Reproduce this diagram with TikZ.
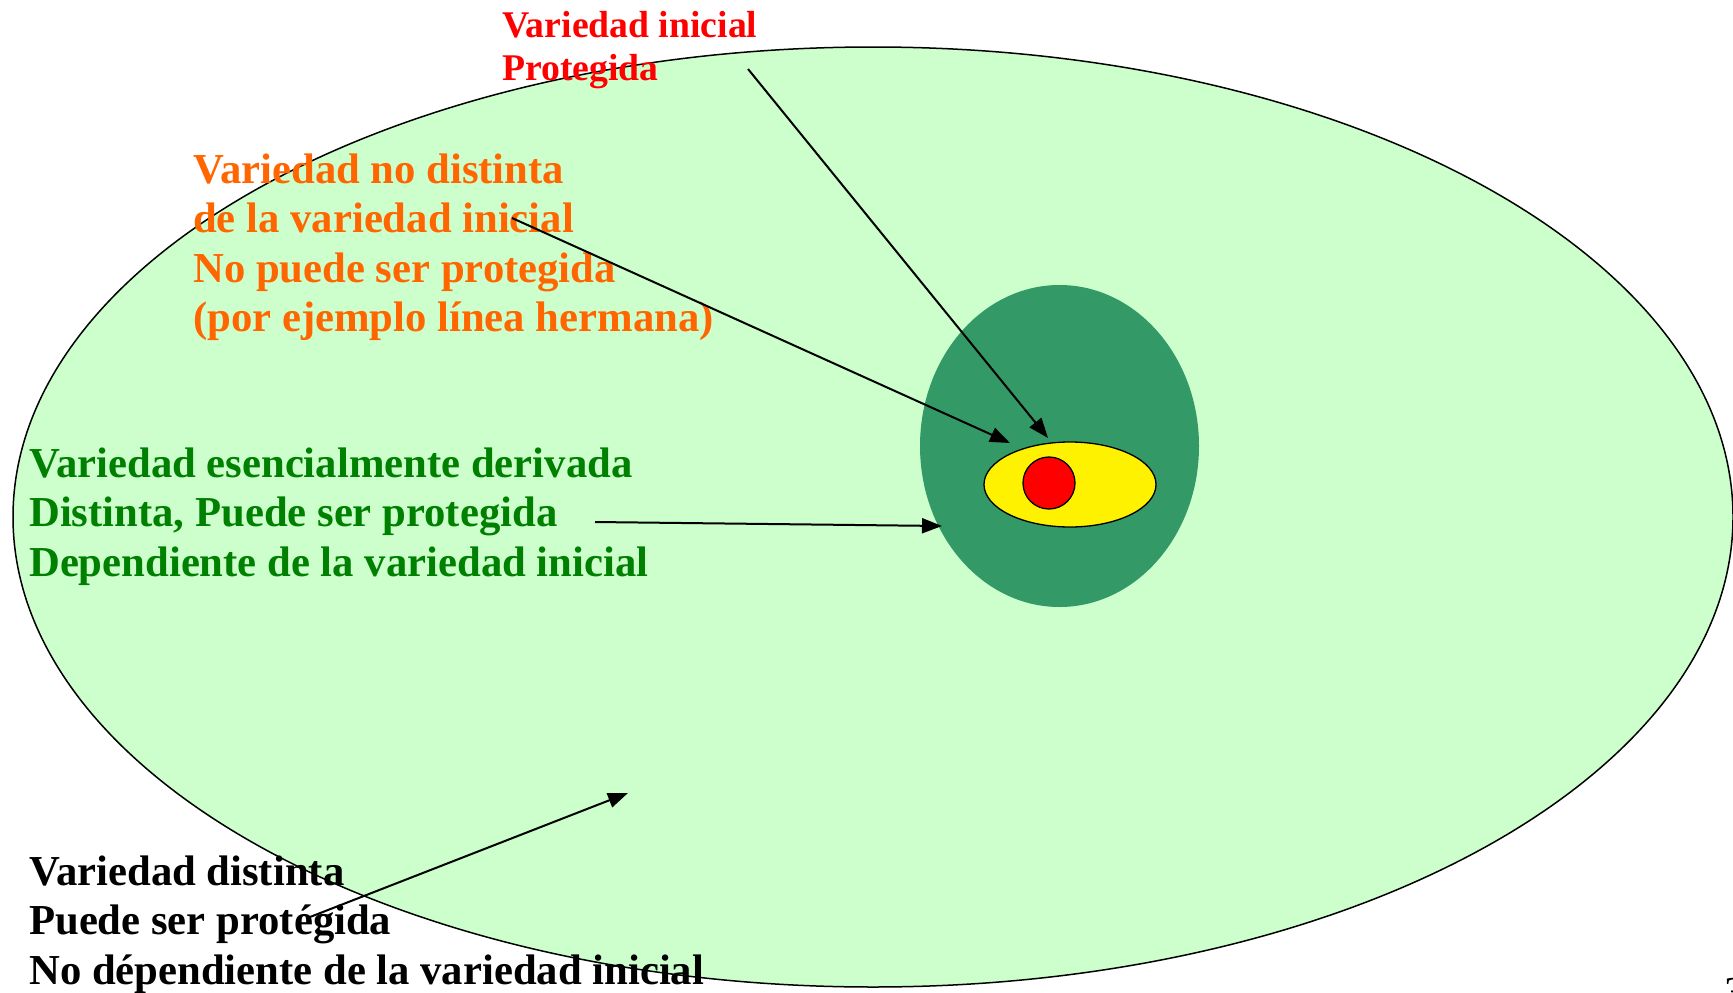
\documentclass[tikz,border=0pt]{standalone}
\usepackage{fontspec}
\setmainfont{Liberation Serif}
\usetikzlibrary{arrows.meta}

\definecolor{paleGreen}{HTML}{CCFFCC}
\definecolor{seaGreen}{HTML}{339966}
\definecolor{txtOrange}{HTML}{FF6600}
\definecolor{txtGreen}{HTML}{008000}

\tikzset{
  txt/.style={anchor=base west, align=left, inner sep=0pt,
    font=\bfseries\fontsize{42.7}{49.5}\selectfont},
  txtsmall/.style={txt, font=\bfseries\fontsize{37.7}{43.5}\selectfont},
  flecha/.style={-{Triangle[length=20pt,width=15pt]}, line width=2pt}
}

\begin{document}
\begin{tikzpicture}[x=1pt,y=-1pt]

   \useasboundingbox (0,0) rectangle (1733,993);

   % big field of varieties
   \fill [paleGreen] (873,517) ellipse [x radius=860, y radius=470];
   \draw [line width=1.5pt] (873,517) ellipse [x radius=860, y radius=470];

   % derived ones, non distinct ones, initial one
   \fill [seaGreen] (1059.5,446) ellipse [x radius=139.5, y radius=161];
   \filldraw [fill=yellow, line width=1.3pt] (1070,484.5) ellipse [x radius=86, y radius=42.5];
   \filldraw [fill=red, line width=1.3pt] (1049,483) circle [radius=26];

   % anchors sit on the last baseline of each text
   \draw(502,80.5) node[txtsmall, red] (inicial) {Variedad inicial\\Protegida};
   \draw(193,331.5) node[txt, txtOrange] (nodist) {Variedad no distinta\\de la variedad inicial\\No puede ser protegida\\(por ejemplo línea hermana)};
   \draw(29,576) node[txt, txtGreen] (esder) {Variedad esencialmente derivada\\Distinta, Puede ser protegida\\Dependiente de la variedad inicial};
   \draw(29,984) node[txt, black] (dist) {Variedad distinta\\Puede ser protégida\\No dépendiente de la variedad inicial};
   \draw(1724,1006) node[anchor=base west, inner sep=0pt, font=\fontsize{42.7}{49.5}\selectfont] (pagina) {3};

   \coordinate (inicialA) at (748,69);
   \coordinate (inicialB) at (1048,438);
   \coordinate (nodistA) at (512,218);
   \coordinate (nodistB) at (1010,443);
   \coordinate (esderA) at (595,522);
   \coordinate (esderB) at (942,526);
   \coordinate (distA) at (310,917);
   \coordinate (distB) at (628,793);

   \draw [flecha] (inicialA) -- (inicialB);
   \draw [flecha] (nodistA) -- (nodistB);
   \draw [flecha] (esderA) -- (esderB);
   \draw [flecha] (distA) -- (distB);

 \end{tikzpicture}
\end{document}
